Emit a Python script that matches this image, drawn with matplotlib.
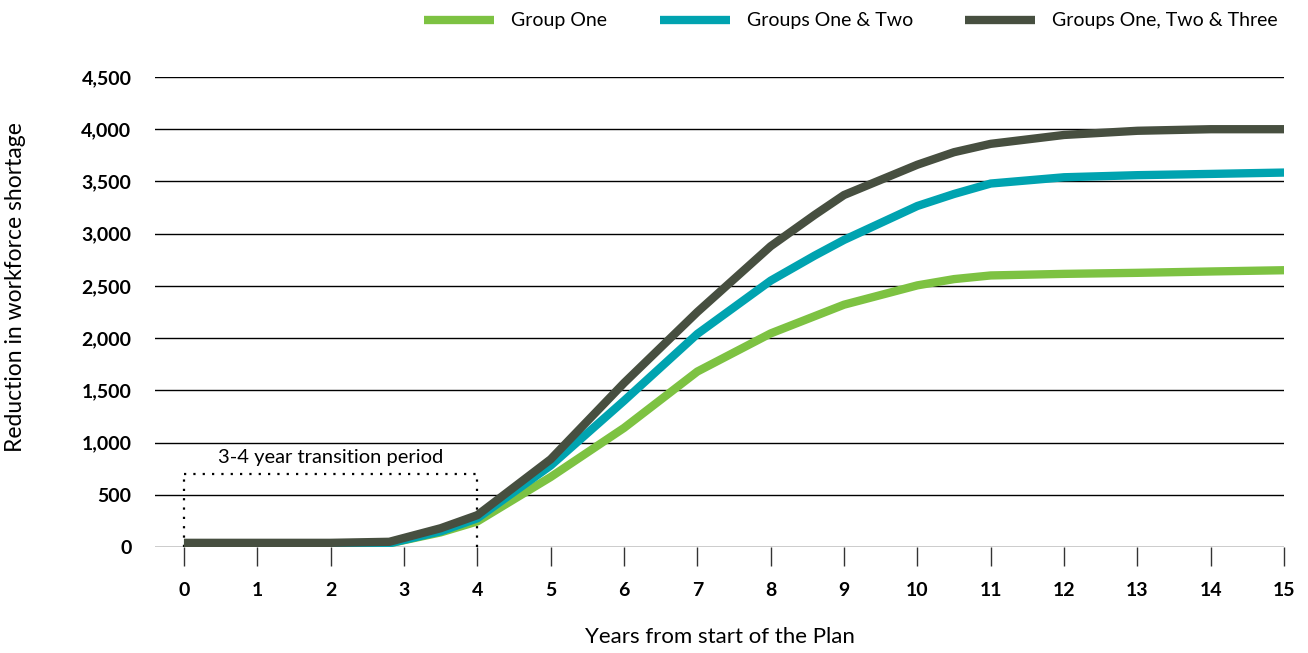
"""Reduction in workforce shortage by group, years from start of the Plan."""

import matplotlib

matplotlib.use("Agg")
import matplotlib.pyplot as plt  # noqa: E402
from matplotlib.ticker import FuncFormatter  # noqa: E402

plt.rcParams["font.family"] = ["Lato", "DejaVu Sans"]

years = [0, 1, 2, 2.8, 3.5, 4, 5, 6, 7, 8, 8.6, 9, 10, 10.5, 11, 12, 13, 14, 15]

group_one = [30, 30, 32, 35, 140, 245, 670, 1140, 1680, 2045, 2210, 2320, 2505,
             2565, 2600, 2615, 2625, 2638, 2650]
groups_one_two = [30, 30, 32, 35, 150, 275, 780, 1400, 2040, 2550, 2790, 2940,
                  3265, 3380, 3480, 3540, 3560, 3572, 3585]
groups_one_two_three = [40, 40, 40, 50, 180, 305, 840, 1570, 2250, 2880, 3180,
                        3370, 3660, 3780, 3860, 3945, 3985, 4000, 4000]

series_labels = ["Group One", "Groups One & Two", "Groups One, Two & Three"]
series_colors = ["#7DC242", "#00A3B0", "#474F40"]

x_ticks = list(range(0, 16))
y_ticks = list(range(0, 5000, 500))

transition_start, transition_end, transition_top = 0, 4, 700
transition_label = "3-4 year transition period"

fig = plt.figure(figsize=(13.08, 6.53), dpi=100)
ax = fig.add_axes([0.1185, 0.1623, 0.8632, 0.7198])

for values, label, color in zip(
    [group_one, groups_one_two, groups_one_two_three], series_labels, series_colors
):
    ax.plot(years, values, color=color, lw=6, label=label,
            solid_joinstyle="round", solid_capstyle="butt", zorder=3)

ax.set_xlim(-0.395, 15)
ax.set_ylim(0, 4500)
ax.set_xticks(x_ticks)
ax.set_yticks(y_ticks)
ax.yaxis.set_major_formatter(FuncFormatter(lambda v, _: f"{int(v):,}"))

for y in y_ticks:
    ax.axhline(y, color="black", lw=1, zorder=1)

for side in ["top", "right", "left", "bottom"]:
    ax.spines[side].set_visible(False)

ax.tick_params(axis="x", length=14, width=1, color="#333333", pad=11,
               labelsize=14)
ax.tick_params(axis="y", length=0, pad=17, labelsize=14)
for lbl in ax.get_xticklabels() + ax.get_yticklabels():
    lbl.set_fontweight("bold")

# transition period box
box_style = dict(color="black", lw=1.6, ls=(0, (1, 3.2)), zorder=2)
ax.plot([transition_start, transition_start], [0, transition_top], **box_style)
ax.plot([transition_end, transition_end], [0, transition_top], **box_style)
ax.plot([transition_start, transition_end], [transition_top, transition_top], **box_style)
ax.text((transition_start + transition_end) / 2, transition_top + 75,
        transition_label, ha="center", va="bottom", fontsize=14.5)

ax.set_xlabel("Years from start of the Plan", fontsize=16, labelpad=20)
ax.set_ylabel("Reduction in workforce shortage", fontsize=16.5)
ax.yaxis.set_label_coords(-0.114, 0.553)

fig.legend(loc="center right", bbox_to_anchor=(0.977, 0.968), ncol=3,
           frameon=False, fontsize=14, handlelength=3.6, handleheight=0.5,
           handletextpad=0.87, columnspacing=2.7, borderpad=0, borderaxespad=0)

fig.savefig("out.png", dpi=100)
plt.close(fig)
